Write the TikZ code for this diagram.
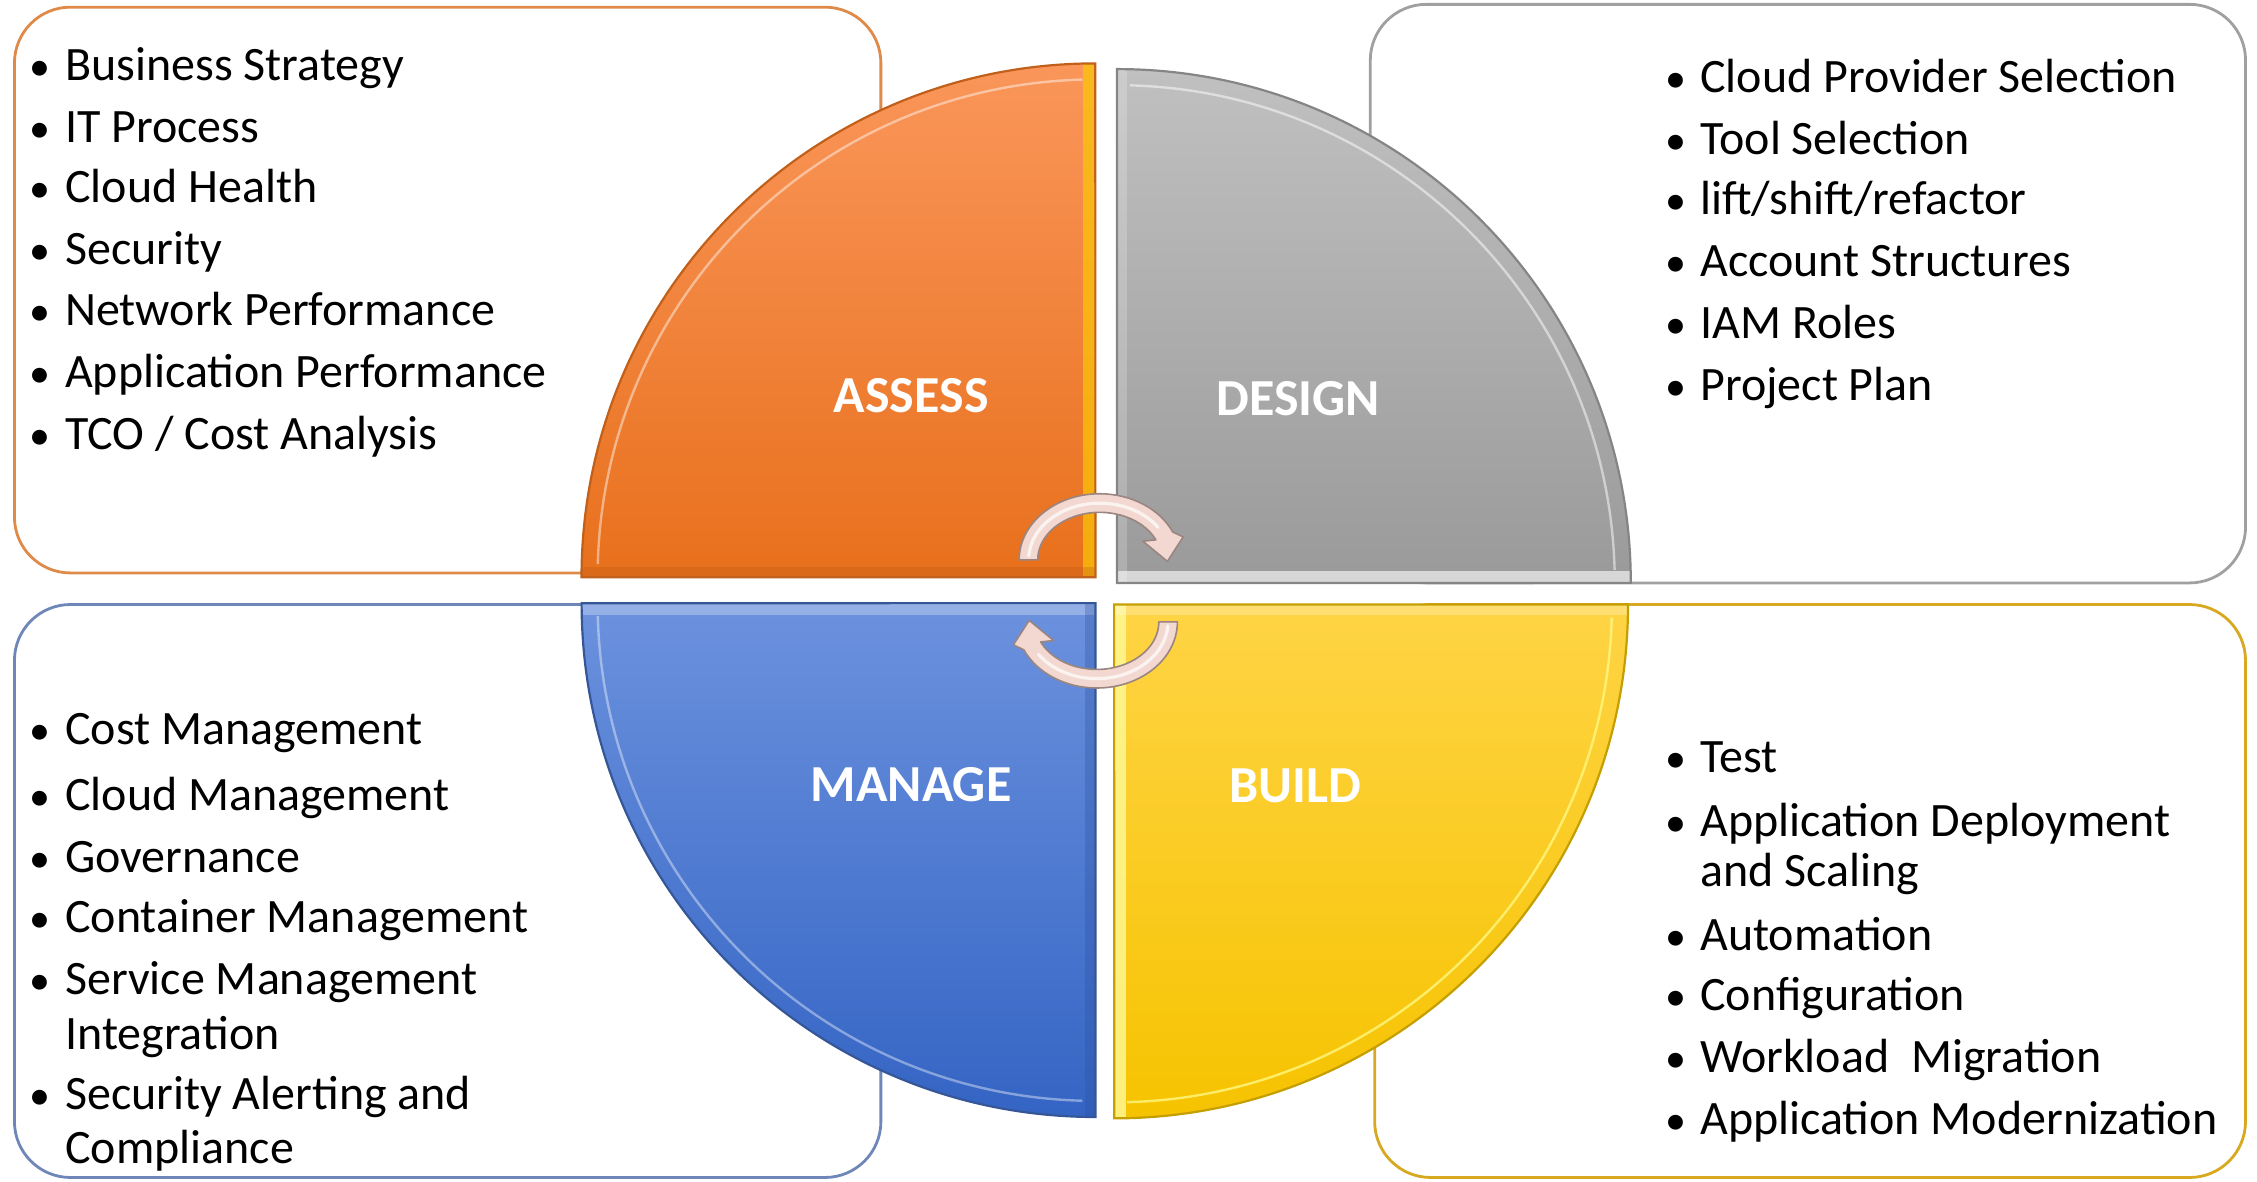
\documentclass[tikz,border=0pt]{standalone}
\usepackage{fontspec}
\setmainfont{Carlito}
\definecolor{orTop}{HTML}{FA965A}
\definecolor{orBot}{HTML}{E8701C}
\definecolor{orLine}{HTML}{C0601A}
\definecolor{grTop}{HTML}{C0C0C0}
\definecolor{grBot}{HTML}{9A9A9A}
\definecolor{grLine}{HTML}{858585}
\definecolor{blTop}{HTML}{6C92DE}
\definecolor{blBot}{HTML}{3464C4}
\definecolor{blLine}{HTML}{355797}
\definecolor{yeTop}{HTML}{FFD445}
\definecolor{yeBot}{HTML}{F6C300}
\definecolor{yeLine}{HTML}{C59E00}
\definecolor{bxOr}{HTML}{E08A4A}
\definecolor{bxGr}{HTML}{A0A0A0}
\definecolor{bxBl}{HTML}{6E86B8}
\definecolor{bxYe}{HTML}{D8A820}
\definecolor{arFill}{HTML}{F2D8D0}
\definecolor{arLine}{HTML}{9A8580}
\tikzset{
  infobox/.style={draw, rounded corners=28pt, line width=1.4pt, fill=white, inner sep=0pt},
  itm/.style={anchor=base west, inner sep=0pt, font=\fontsize{24}{28}\selectfont},
  bull/.style={anchor=base, inner sep=0pt, font=\fontsize{21}{24}\selectfont},
  lab/.style={text=white, inner sep=0pt, font=\bfseries\fontsize{26}{30}\selectfont},
  quadline/.style={line width=1.1pt},
  arrowshape/.style={fill=arFill, draw=arLine, line width=0.8pt, line join=round},
  pA/.style={insert path={(761,401) -- (404,401) arc[start angle=180,end angle=90,radius=257pt] -- cycle}},
  pD/.style={insert path={(776,405) -- (776,48) arc[start angle=90,end angle=0,radius=257pt] -- cycle}},
  pB/.style={insert path={(774,420) -- (1131,420) arc[start angle=0,end angle=-90,radius=257pt] -- cycle}},
  pM/.style={insert path={(761,419) -- (761,776) arc[start angle=270,end angle=180,radius=257pt] -- cycle}},
}
\begin{document}
\begin{tikzpicture}[x=0.72pt,y=-0.72pt]
\useasboundingbox (0,0) rectangle (1568,821);

% text boxes (behind the circle)
\node[infobox, draw=bxOr, minimum width=433.4pt, minimum height=283pt] (boxTL) at (311,201.5) {};
\node[infobox, draw=bxGr, minimum width=437.8pt, minimum height=289.4pt] (boxTR) at (1256,204) {};
\node[infobox, draw=bxBl, minimum width=433.4pt, minimum height=286.6pt] (boxBL) at (311,619) {};
\node[infobox, draw=bxYe, minimum width=435.6pt, minimum height=286.6pt] (boxBR) at (1257.5,619) {};

% quadrants
\coordinate (cA) at (761,401);
\coordinate (cD) at (776,405);
\coordinate (cB) at (774,420);
\coordinate (cM) at (761,419);

\path[pA, top color=orTop, bottom color=orBot];
\begin{scope}
  \clip[pA];
  \draw[line width=12pt, color=yellow!60!orange, opacity=0.7] (761,401) -- (761,40);
  \draw[line width=10pt, color=orBot!80!black, opacity=0.3] (770,401) -- (400,401);
\end{scope}
\draw[white, opacity=0.45, line width=1.2pt] ([shift={(178.5:249pt)}]cA) arc[start angle=178.5,end angle=91.5,radius=249pt];
\draw[pA, quadline, draw=orLine];

\path[pD, top color=grTop, bottom color=grBot];
\begin{scope}
  \clip[pD];
  \draw[line width=12pt, color=white, opacity=0.6] (770,405) -- (1140,405);
  \draw[line width=10pt, color=white, opacity=0.2] (776,405) -- (776,40);
\end{scope}
\draw[white, opacity=0.5, line width=1.2pt] ([shift={(88.5:249pt)}]cD) arc[start angle=88.5,end angle=1.5,radius=249pt];
\draw[pD, quadline, draw=grLine];

\path[pM, top color=blTop, bottom color=blBot];
\begin{scope}
  \clip[pM];
  \draw[line width=12pt, color=blTop!60!white, opacity=0.7] (761,419) -- (395,419);
  \draw[line width=10pt, color=blBot!80!black, opacity=0.3] (761,410) -- (761,790);
\end{scope}
\draw[white, opacity=0.4, line width=1.2pt] ([shift={(268.5:249pt)}]cM) arc[start angle=268.5,end angle=181.5,radius=249pt];
\draw[pM, quadline, draw=blLine];

\path[pB, top color=yeTop, bottom color=yeBot];
\begin{scope}
  \clip[pB];
  \draw[line width=12pt, color=yellow!40!white, opacity=0.8] (774,410) -- (774,790);
  \draw[line width=10pt, color=white, opacity=0.25] (774,420) -- (1140,420);
\end{scope}
\draw[yellow!50!white, opacity=0.8, line width=1.2pt] ([shift={(-1.5:249pt)}]cB) arc[start angle=-1.5,end angle=-88.5,radius=249pt];
\draw[pB, quadline, draw=yeLine];

% quadrant labels
\node[lab] (lAssess) at (633,275) {ASSESS};
\node[lab] (lDesign) at (902,277) {DESIGN};
\node[lab] (lManage) at (633,545) {MANAGE};
\node[lab] (lBuild)  at (900,546) {BUILD};

% circular arrows
\coordinate (aT) at (764,389);
\coordinate (aB) at (762,432);
\draw[arrowshape] ([shift={(180:40.3pt and 33.1pt)}]aT)
  arc[start angle=180,end angle=25,x radius=40.3pt,y radius=33.1pt]
  -- (822,373) -- (811,390) -- (794,376)
  -- ([shift={(25:31pt and 23.8pt)}]aT)
  arc[start angle=25,end angle=180,x radius=31pt,y radius=23.8pt] -- cycle;
\draw[white, opacity=0.7, line width=1.6pt, line cap=round] ([shift={(176:35.6pt and 28.4pt)}]aT)
  arc[start angle=176,end angle=35,x radius=35.6pt,y radius=28.4pt];
\draw[arrowshape] ([shift={(0:40.3pt and 33.1pt)}]aB)
  arc[start angle=0,end angle=-155,x radius=40.3pt,y radius=33.1pt]
  -- (704,448) -- (715,431) -- (732,445)
  -- ([shift={(-155:31pt and 23.8pt)}]aB)
  arc[start angle=-155,end angle=0,x radius=31pt,y radius=23.8pt] -- cycle;
\draw[white, opacity=0.7, line width=1.6pt, line cap=round] ([shift={(-4:35.6pt and 28.4pt)}]aB)
  arc[start angle=-4,end angle=-145,x radius=35.6pt,y radius=28.4pt];

% top-left list
\node[itm] (tl1) at (45,56)  {Business Strategy};
\node[itm] (tl2) at (45,99)  {IT Process};
\node[itm] (tl3) at (45,141) {Cloud Health};
\node[itm] (tl4) at (45,184) {Security};
\node[itm] (tl5) at (45,226) {Network Performance};
\node[itm] (tl6) at (45,269) {Application Performance};
\node[itm] (tl7) at (45,312) {TCO / Cost Analysis};
\foreach \y [count=\i] in {56,99,141,184,226,269,312}
  \node[bull] (tlb\i) at (28,\y) {\textbullet};

% top-right list
\node[itm] (tr1) at (1181,64)  {Cloud Provider Selection};
\node[itm] (tr2) at (1181,107) {Tool Selection};
\node[itm] (tr3) at (1181,149) {lift/shift/refactor};
\node[itm] (tr4) at (1181,192) {Account Structures};
\node[itm] (tr5) at (1181,235) {IAM Roles};
\node[itm] (tr6) at (1181,278) {Project Plan};
\foreach \y [count=\i] in {64,107,149,192,235,278}
  \node[bull] (trb\i) at (1164,\y) {\textbullet};

% bottom-left list
\node[itm] (bl1) at (45,517) {Cost Management};
\node[itm] (bl2) at (45,563) {Cloud Management};
\node[itm] (bl3) at (45,606) {Governance};
\node[itm] (bl4) at (45,648) {Container Management};
\node[itm] (bl5) at (45,691) {Service Management};
\node[itm] (bl5b) at (45,729) {Integration};
\node[itm] (bl6) at (45,771) {Security Alerting and};
\node[itm] (bl6b) at (45,808) {Compliance};
\foreach \y [count=\i] in {517,563,606,648,691,771}
  \node[bull] (blb\i) at (28,\y) {\textbullet};

% bottom-right list
\node[itm] (br1) at (1181,537) {Test};
\node[itm] (br2) at (1181,581) {Application Deployment};
\node[itm] (br2b) at (1181,616) {and Scaling};
\node[itm] (br3) at (1181,660) {Automation};
\node[itm] (br4) at (1181,702) {Configuration};
\node[itm] (br5) at (1181,745) {Workload\ \ Migration};
\node[itm] (br6) at (1181,788) {Application Modernization};
\foreach \y [count=\i] in {537,581,660,702,745,788}
  \node[bull] (brb\i) at (1164,\y) {\textbullet};
\end{tikzpicture}
\end{document}
